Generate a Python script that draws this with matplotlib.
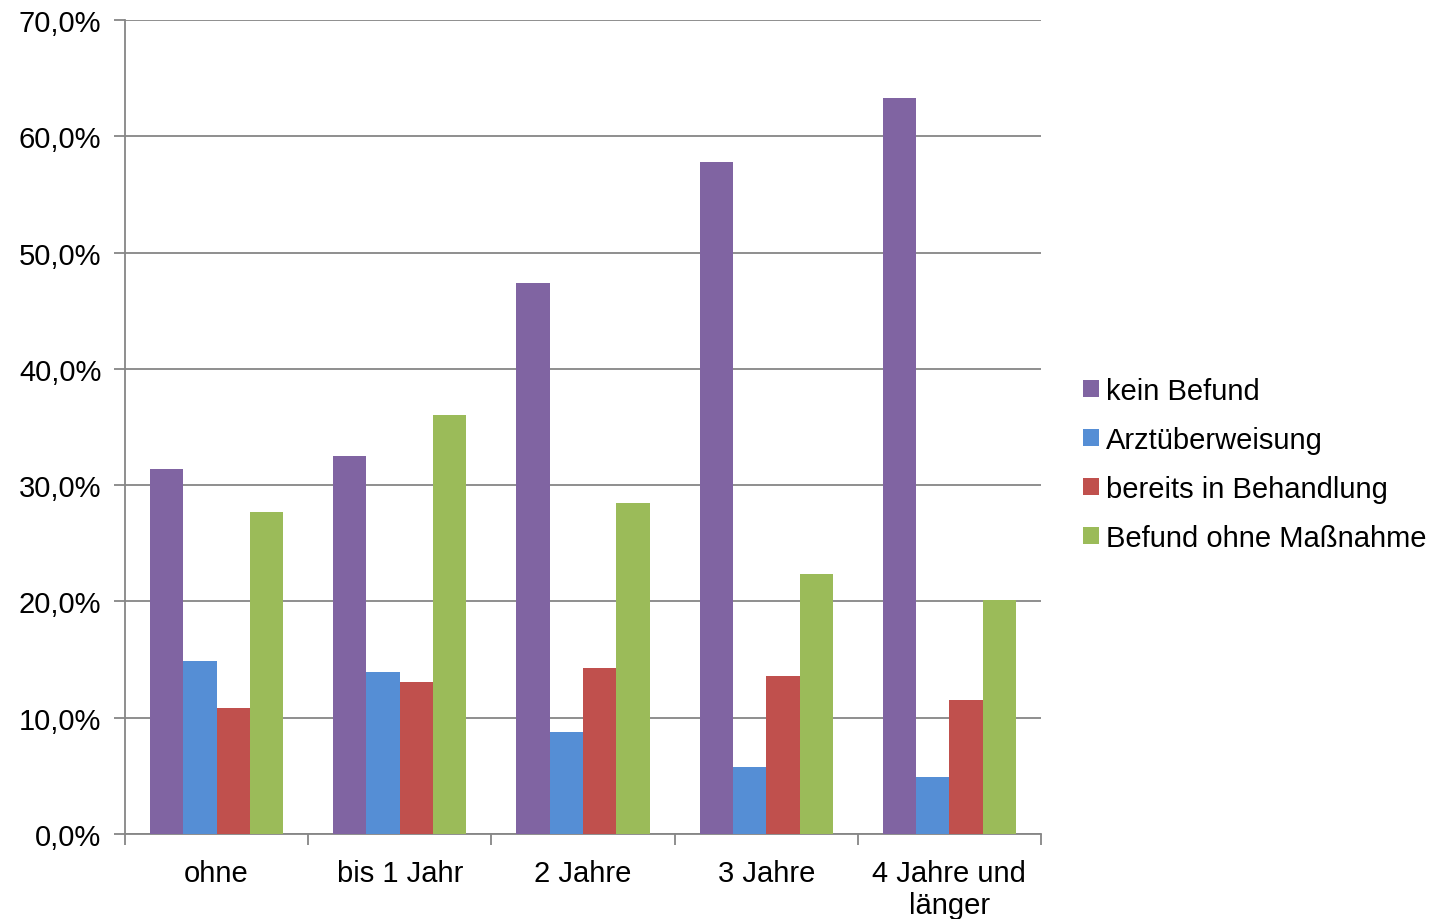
import numpy as np
import matplotlib
matplotlib.use("Agg")
import matplotlib.pyplot as plt
from matplotlib.ticker import FuncFormatter, FixedLocator

plt.rcParams['font.family'] = ['Liberation Sans', 'DejaVu Sans']

categories = ['ohne', 'bis 1 Jahr', '2 Jahre', '3 Jahre', '4 Jahre und\nlänger']
series = ['kein Befund', 'Arztüberweisung', 'bereits in Behandlung', 'Befund ohne Maßnahme']
kein_befund = [31.4, 32.5, 47.4, 57.8, 63.3]
arztueberweisung = [14.9, 13.9, 8.8, 5.8, 4.9]
in_behandlung = [10.8, 13.1, 14.3, 13.6, 11.5]
ohne_massnahme = [27.7, 36.0, 28.5, 22.4, 20.1]
colors = ['#8064A2', '#558ED5', '#C0504D', '#9BBB59']

values = [kein_befund, arztueberweisung, in_behandlung, ohne_massnahme]

fig = plt.figure(figsize=(14.33, 9.2), dpi=100)
ax = fig.add_axes([125/1433, 1 - 835/920, 916/1433, 814/920])

x = np.arange(len(categories))
width = 0.182
for i, (vals, name, c) in enumerate(zip(values, series, colors)):
    ax.bar(x + (i - 1.5) * width, vals, width, color=c, label=name, zorder=3)

ax.set_xlim(-0.5, len(categories) - 0.5)
ax.set_ylim(0, 70)
ax.set_yticks(np.arange(0, 71, 10))
ax.yaxis.set_major_formatter(FuncFormatter(lambda v, p: f'{v:.1f}%'.replace('.', ',')))
ax.grid(axis='y', color='#868686', linewidth=1.3, zorder=0)

ax.set_xticks(x)
ax.set_xticklabels(categories, fontsize=21, linespacing=1.2)
ax.xaxis.set_minor_locator(FixedLocator(np.arange(-0.5, len(categories), 1)))
ax.tick_params(axis='x', which='major', length=0, pad=18)
ax.tick_params(axis='x', which='minor', length=8, width=1.3, color='#868686')
ax.tick_params(axis='y', length=8, width=1.3, color='#868686', labelsize=21, pad=9)

for s in ['top', 'right']:
    ax.spines[s].set_visible(False)
for s in ['left', 'bottom']:
    ax.spines[s].set_color('#868686')
    ax.spines[s].set_linewidth(1.3)

leg = fig.legend(loc='upper left', bbox_to_anchor=(1071/1433, 1 - 366/920),
                 frameon=False, fontsize=21, handlelength=0.55, handleheight=0.55,
                 handletextpad=0.25, labelspacing=0.72, borderaxespad=0)

fig.savefig('out.png', dpi=100)
